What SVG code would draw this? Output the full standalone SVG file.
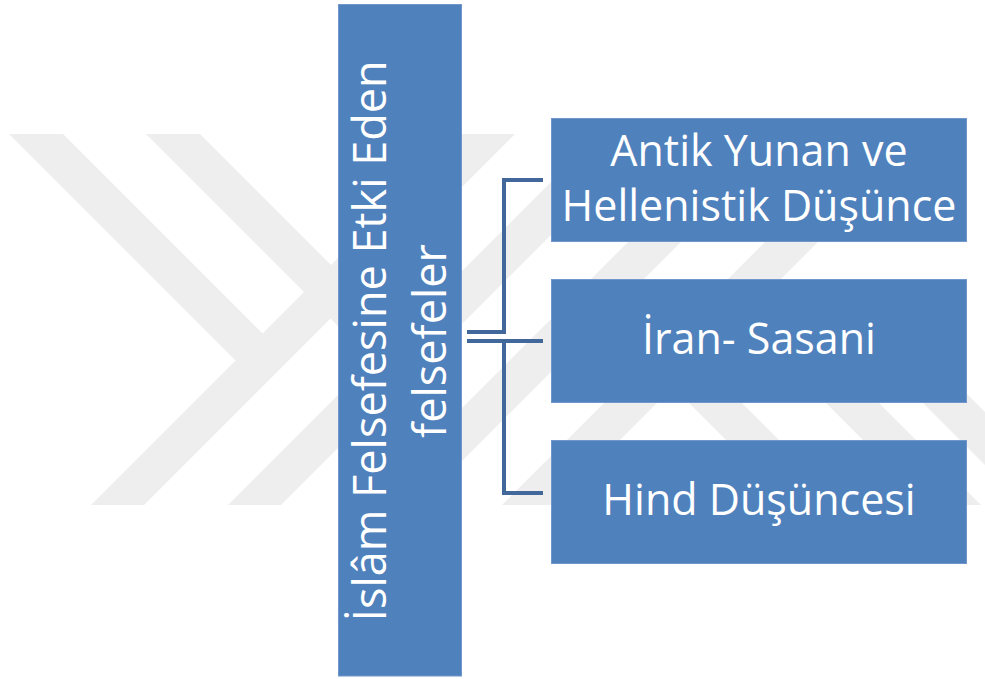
<svg xmlns="http://www.w3.org/2000/svg" width="985" height="679" viewBox="0 0 985 679">
  <style>
    .wm { fill: #eeeeee; stroke: none; }
    .box { fill: #4f81bd; stroke: #7096cb; stroke-width: 1; }
    .lbl { fill: #ffffff; font-family: "Open Sans", "Noto Sans", "DejaVu Sans", sans-serif; font-size: 43px; text-anchor: middle; }
    .vlbl { fill: #ffffff; font-family: "Open Sans", "Noto Sans", "DejaVu Sans", sans-serif; font-size: 45px; text-anchor: middle; }
    .conn { fill: none; stroke: #41679b; stroke-width: 4; stroke-linejoin: miter; stroke-linecap: butt; }
  </style>
  <rect x="0" y="0" width="985" height="679" fill="#ffffff"/>
  <g id="watermark">
    <!-- "\" arms on the left -->
    <polygon class="wm" points="9,134 63,134 289,360 235.5,360.5"/>
    <polygon class="wm" points="146,134 200,134 426,360 372.5,360.5"/>
    <!-- "/" bands -->
    <polygon class="wm" points="462,134 515,134 144,505 91,505"/>
    <polygon class="wm" points="599,134 652,134 281,505 228,505"/>
    <polygon class="wm" points="736,134 789,134 418,505 365,505"/>
    <polygon class="wm" points="873,134 926,134 555,505 502,505"/>
    <!-- "\" bands on the right -->
    <polygon class="wm" points="586,300 639,300 844,505 791,505"/>
    <polygon class="wm" points="723,300 776,300 981,505 928,505"/>
    <polygon class="wm" points="820,300 873,300 1078,505 1025,505"/>
  </g>
  <g id="connectors">
    <path class="conn" d="M467,332 H504 V180 H543"/>
    <path class="conn" d="M467,341 H543"/>
    <path class="conn" d="M504,341 V493 H543"/>
  </g>
  <g id="main">
    <rect class="box" x="338.5" y="4.5" width="123" height="671.5"/>
    <text class="vlbl" transform="translate(386,341) rotate(-90)"><tspan x="0" y="0">İslâm Felsefesine Etki Eden</tspan><tspan x="0" y="60">felsefeler</tspan></text>
  </g>
  <g id="antik">
    <rect class="box" x="551.5" y="118.5" width="415" height="123"/>
    <text class="lbl"><tspan x="759" y="166">Antik Yunan ve</tspan><tspan x="759" y="221">Hellenistik Düşünce</tspan></text>
  </g>
  <g id="iran">
    <rect class="box" x="551.5" y="279.5" width="415" height="123"/>
    <text class="lbl" x="759" y="354">İran- Sasani</text>
  </g>
  <g id="hind">
    <rect class="box" x="551.5" y="440.5" width="415" height="123"/>
    <text class="lbl" x="759" y="515">Hind Düşüncesi</text>
  </g>
</svg>
